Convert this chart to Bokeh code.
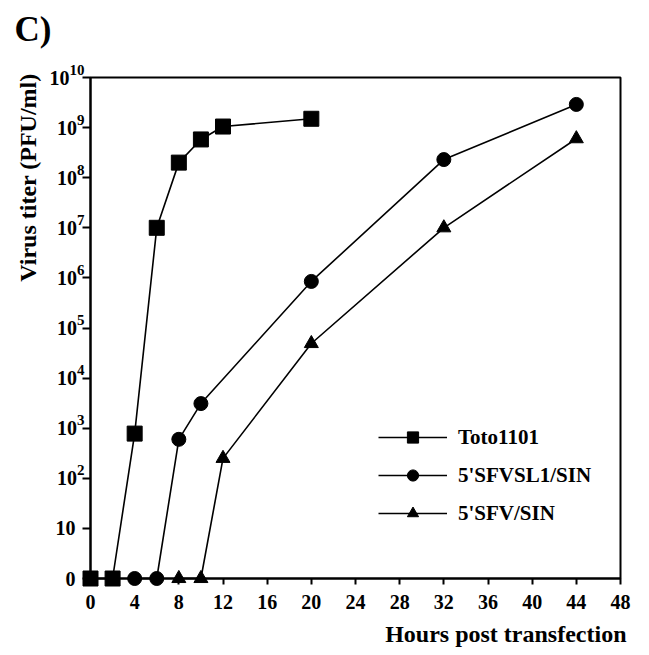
import math
from bokeh.plotting import figure
from bokeh.models import Range1d, FixedTicker, Legend, LegendItem
from bokeh.core.properties import value
from bokeh.embed import file_html
from bokeh.resources import INLINE

# Data: hours post transfection and virus titer (PFU/ml); 0 = no detectable virus
toto_hours = [0, 2, 4, 6, 8, 10, 12, 20]
toto_titer = [0, 0, 780, 1.0e7, 2.0e8, 5.8e8, 1.05e9, 1.5e9]

sl1_hours = [4, 6, 8, 10, 20, 32, 44]
sl1_titer = [0, 0, 600, 3100, 8.5e5, 2.3e8, 2.9e9]

sfv_hours = [8, 10, 12, 20, 32, 44]
sfv_titer = [0, 0, 250, 4.9e4, 1.0e7, 6.0e8]

series_names = ["Toto1101", "5'SFVSL1/SIN", "5'SFV/SIN"]

x_ticks = [0, 4, 8, 12, 16, 20, 24, 28, 32, 36, 40, 44, 48]
y_ticks = [1, 10, 1e2, 1e3, 1e4, 1e5, 1e6, 1e7, 1e8, 1e9, 1e10]
y_tick_base = ["0", "10", "10", "10", "10", "10", "10", "10", "10", "10", "10"]
y_tick_exp = ["", "", "2", "3", "4", "5", "6", "7", "8", "9", "10"]

panel_label = "C)"
y_label = "Virus titer (PFU/ml)"
x_label = "Hours post transfection"

FONT = "Liberation Serif"

def plotted(vals):
    # a titer of 0 is drawn on the bottom line of the log axis
    return [v if v > 0 else 1 for v in vals]

x_range = Range1d(0, 48)
y_range = Range1d(1, 1e10)
p = figure(width=633, height=647, output_backend="svg", toolbar_location=None,
           x_range=x_range, y_range=y_range, y_axis_type="log",
           min_border_left=90, min_border_right=13, min_border_top=77, min_border_bottom=69)
p.background_fill_color = "white"
p.border_fill_color = "white"
p.xgrid.visible = False
p.ygrid.visible = False
p.outline_line_color = "black"
p.outline_line_width = 2

p.xaxis.ticker = FixedTicker(ticks=x_ticks)
p.yaxis.ticker = FixedTicker(ticks=y_ticks)
p.yaxis.major_label_overrides = {float(t): "" for t in y_ticks}
for ax in (p.xaxis, p.yaxis):
    ax.axis_line_width = 2
    ax.axis_line_color = "black"
    ax.major_tick_line_width = 2
    ax.major_tick_line_color = "black"
    ax.minor_tick_line_color = None
    ax.major_tick_in = 0
    ax.major_label_text_font = FONT
    ax.major_label_text_font_style = "bold"
    ax.major_label_text_font_size = "20px"
    ax.major_label_text_color = "black"
p.xaxis.major_tick_out = 6
p.xaxis.major_label_standoff = 10
p.yaxis.major_tick_out = 8
p.yaxis.major_label_standoff = 2

# y tick labels: "10" with a raised exponent
SUP_W = 7.5
base_off = []
sup_off = []
for b, e in zip(y_tick_base, y_tick_exp):
    if e:
        o = -6 - SUP_W * len(e)
        base_off.append(o)
        sup_off.append(o)
    else:
        base_off.append(-15)
        sup_off.append(0)
x0 = [x_range.start] * len(y_ticks)
tb = p.text(x=x0, y=y_ticks, text=y_tick_base, x_offset=base_off,
            text_align="right", text_baseline="middle", text_font=value(FONT),
            text_font_style="bold", text_font_size="20px", text_color="black")
ts = p.text(x=x0, y=y_ticks, text=y_tick_exp, x_offset=sup_off, y_offset=-8,
            text_align="left", text_baseline="middle", text_font=value(FONT),
            text_font_style="bold", text_font_size="15px", text_color="black")
tb.level = "overlay"
ts.level = "overlay"

items = []
specs = [
    (toto_hours, toto_titer, "square", 15),
    (sl1_hours, sl1_titer, "circle", 14),
    (sfv_hours, sfv_titer, "triangle", 14),
]
for name, (hx, ty, mk, sz) in zip(series_names, specs):
    lr = p.line(hx, plotted(ty), line_color="black", line_width=1.6)
    sr = p.scatter(hx, plotted(ty), marker=mk, size=sz, fill_color="black", line_color="black")
    lr.level = "overlay"
    sr.level = "overlay"
    items.append(LegendItem(label=name, renderers=[lr, sr]))

legend = Legend(items=items, location=(288, 51), orientation="vertical",
                glyph_width=69, glyph_height=28, label_height=28, spacing=10,
                label_standoff=11, padding=0, margin=0,
                label_text_font=FONT, label_text_font_style="bold",
                label_text_font_size="21px", label_text_color="black",
                background_fill_alpha=0, border_line_color=None)
p.add_layout(legend, "center")

# panel letter and axis titles, anchored to the frame corners
t1 = p.text(x=[x_range.start], y=[y_range.end], text=[panel_label], x_offset=-76, y_offset=-48,
            text_align="left", text_baseline="middle", text_font=value(FONT),
            text_font_style="bold", text_font_size="35px", text_color="black")
t2 = p.text(x=[x_range.start], y=[y_range.end], text=[y_label], x_offset=-63, y_offset=100,
            angle=math.pi / 2, text_align="center", text_baseline="middle", text_font=value(FONT),
            text_font_style="bold", text_font_size="24px", text_color="black")
t3 = p.text(x=[x_range.end], y=[y_range.start], text=[x_label], x_offset=6, y_offset=55,
            text_align="right", text_baseline="middle", text_font=value(FONT),
            text_font_style="bold", text_font_size="24px", text_color="black")
for t in (t1, t2, t3):
    t.level = "overlay"

open("out.html", "w").write(file_html(p, INLINE))
